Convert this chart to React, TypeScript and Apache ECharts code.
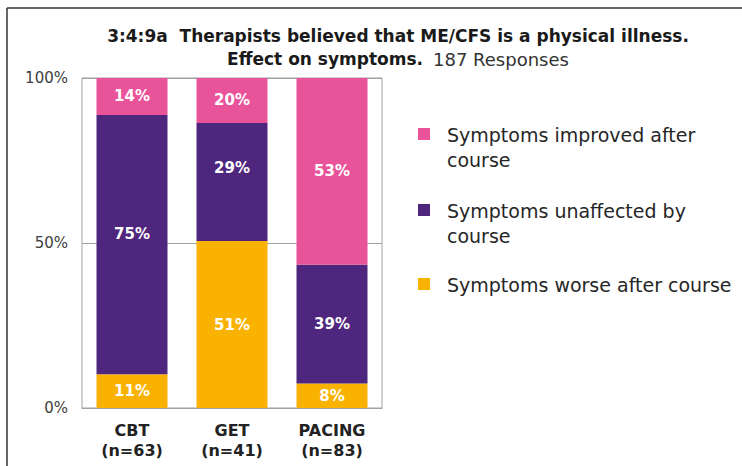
import React, { useEffect, useRef } from "react";
import * as echarts from "echarts";

// Data
const categories = ["CBT\n(n=63)", "GET\n(n=41)", "PACING\n(n=83)"];
const seriesNames = [
  "Symptoms worse after course",
  "Symptoms unaffected by\ncourse",
  "Symptoms improved after\ncourse",
];
// segment heights as drawn (percent of bar)
const worse = [10.2, 50.6, 7.4];
const unaffected = [78.6, 35.8, 36.0];
const improved = [11.2, 13.6, 56.6];
// printed labels
const worseLabels = ["11%", "51%", "8%"];
const unaffectedLabels = ["75%", "29%", "39%"];
const improvedLabels = ["14%", "20%", "53%"];
const yTicks = [0, 50, 100];

const COLORS = ["#F9B200", "#4F267D", "#E9539A"];
const FONT = "DejaVu Sans";

export default function App() {
  const ref = useRef<HTMLDivElement>(null);
  useEffect(() => {
    if (!ref.current) return;
    const chart = echarts.init(ref.current, undefined, { renderer: "svg" });
    const values = [worse, unaffected, improved];
    const labels = [worseLabels, unaffectedLabels, improvedLabels];
    const labelOffsets: Record<string, number[]> = { "1-0": [0, -11], "1-1": [0, -14] };

    const series = values.map((vals, si) => ({
      name: seriesNames[si],
      type: "bar",
      stack: "total",
      barWidth: 71,
      itemStyle: { color: COLORS[si] },
      label: {
        show: true,
        position: "inside",
        color: "#ffffff",
        fontWeight: "bold",
        fontSize: 15,
        fontFamily: FONT,
        formatter: (p: any) => labels[si][p.dataIndex],
      },
      data: vals.map((v, di) => {
        const off = labelOffsets[`${si}-${di}`];
        return off ? { value: v, label: { offset: off } } : { value: v };
      }),
    }));

    // legend drawn as graphic (first line aligned with swatch)
    const legendOrder = [2, 1, 0];
    const legendTops = [128, 204, 278];
    const legendGraphics: any[] = [];
    legendOrder.forEach((si, i) => {
      legendGraphics.push({
        type: "rect",
        shape: { x: 418, y: legendTops[i], width: 12, height: 12 },
        style: { fill: COLORS[si] },
      });
      legendGraphics.push({
        type: "text",
        x: 447,
        y: legendTops[i] - 6,
        style: {
          text: seriesNames[si],
          fontSize: 19,
          fontFamily: FONT,
          fill: "#262626",
          lineHeight: 25,
          align: "left",
          verticalAlign: "top",
        },
      });
    });

    chart.setOption({
      animation: false,
      textStyle: { fontFamily: FONT },
      grid: { left: 82, right: 360, top: 78, bottom: 58, show: true, borderColor: "#a0a0a0", borderWidth: 1 },
      xAxis: {
        type: "category",
        data: categories,
        axisLine: { show: true, lineStyle: { color: "#a0a0a0" } },
        axisTick: { show: false },
        axisLabel: {
          fontFamily: FONT,
          fontWeight: "bold",
          fontSize: 16,
          color: "#222",
          lineHeight: 20,
          margin: 12,
        },
      },
      yAxis: {
        type: "value",
        min: yTicks[0],
        max: yTicks[yTicks.length - 1],
        interval: yTicks[1] - yTicks[0],
        axisLine: { show: false },
        axisTick: { show: false },
        splitLine: { show: true, lineStyle: { color: "#a0a0a0", width: 1 } },
        axisLabel: {
          formatter: "{value}%",
          fontFamily: FONT,
          fontSize: 15,
          color: "#404040",
          margin: 14,
        },
      },
      series,
      graphic: [
        { type: "line", shape: { x1: 7, y1: 8, x2: 742, y2: 8 }, style: { stroke: "#333", lineWidth: 1.5 } },
        { type: "line", shape: { x1: 7, y1: 8, x2: 7, y2: 466 }, style: { stroke: "#333", lineWidth: 1.5 } },
        {
          type: "text",
          x: 398,
          y: 36,
          style: {
            text: "3:4:9a  Therapists believed that ME/CFS is a physical illness.",
            fontSize: 17,
            fontWeight: "bold",
            fontFamily: FONT,
            fill: "#1a1a1a",
            align: "center",
            verticalAlign: "middle",
          },
        },
        {
          type: "text",
          x: 398,
          y: 59,
          style: {
            text: "{b|Effect on symptoms.}   {n|187 Responses}",
            align: "center",
            verticalAlign: "middle",
            rich: {
              b: { fontSize: 17, fontWeight: "bold", fontFamily: FONT, fill: "#1a1a1a" },
              n: { fontSize: 18, fontFamily: FONT, fill: "#333" },
            },
          },
        },
        ...legendGraphics,
      ],
    });
    return () => chart.dispose();
  }, []);
  return (
    <div
      ref={ref}
      style={{ position: "absolute", left: 0, top: 0, width: 742, height: 466, background: "#fff" }}
    />
  );
}
